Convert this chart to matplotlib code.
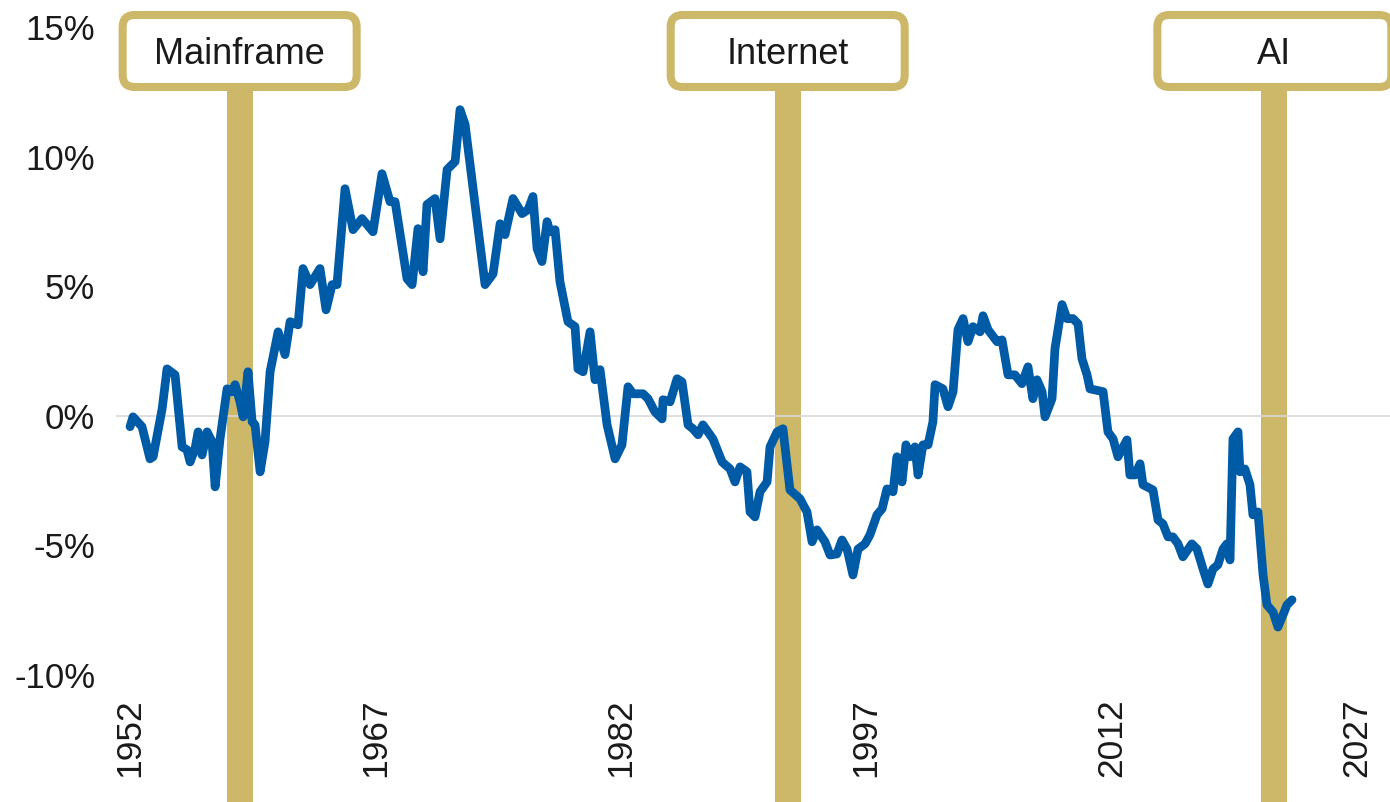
import matplotlib
matplotlib.use("Agg")
import matplotlib.pyplot as plt
from matplotlib.patches import FancyBboxPatch
from matplotlib.transforms import IdentityTransform

plt.rcParams['font.family'] = ['Liberation Sans', 'DejaVu Sans']

# series (year, percent)
years = [1952.00, 1952.18, 1952.73, 1953.22, 1953.41, 1953.96, 1954.26, 1954.75, 1955.18, 1955.48,
         1955.67, 1955.97, 1956.16, 1956.40, 1956.71, 1957.01, 1957.20, 1957.50, 1957.93, 1958.23,
         1958.42, 1958.72, 1958.91, 1959.21, 1959.46, 1959.64, 1959.95, 1960.25, 1960.56, 1961.05,
         1961.47, 1961.78, 1962.27, 1962.57, 1963.00, 1963.61, 1963.98, 1964.35, 1964.65, 1965.14,
         1965.63, 1966.18, 1966.85, 1967.40, 1967.89, 1968.20, 1968.93, 1969.24, 1969.60, 1969.91,
         1970.15, 1970.64, 1970.95, 1971.38, 1971.87, 1972.17, 1972.48, 1973.70, 1974.19, 1974.62,
         1974.92, 1975.41, 1975.96, 1976.33, 1976.63, 1976.88, 1977.18, 1977.49, 1977.67, 1977.98,
         1978.28, 1978.77, 1979.20, 1979.38, 1979.69, 1980.12, 1980.42, 1980.73, 1981.16, 1981.65,
         1982.07, 1982.44, 1982.75, 1983.36, 1983.66, 1984.09, 1984.52, 1984.58, 1985.01, 1985.44,
         1985.74, 1986.11, 1986.41, 1986.72, 1987.02, 1987.63, 1988.19, 1988.68, 1988.98, 1989.29,
         1989.71, 1989.90, 1990.20, 1990.51, 1990.94, 1991.12, 1991.55, 1991.91, 1992.34, 1992.95,
         1993.38, 1993.69, 1993.99, 1994.48, 1994.79, 1995.21, 1995.52, 1995.83, 1996.19, 1996.50,
         1996.93, 1997.23, 1997.66, 1997.97, 1998.27, 1998.64, 1998.88, 1999.19, 1999.43, 1999.68,
         1999.98, 2000.17, 2000.47, 2000.78, 2001.08, 2001.21, 2001.69, 2002.00, 2002.31, 2002.61,
         2002.92, 2003.22, 2003.53, 2003.96, 2004.14, 2004.45, 2005.00, 2005.30, 2005.67, 2006.09,
         2006.52, 2006.89, 2007.19, 2007.44, 2007.75, 2007.93, 2008.36, 2008.54, 2008.97, 2009.27,
         2009.64, 2009.95, 2010.19, 2010.50, 2010.68, 2011.48, 2011.78, 2012.09, 2012.39, 2012.94,
         2013.12, 2013.43, 2013.74, 2013.92, 2014.53, 2014.84, 2015.14, 2015.45, 2015.75, 2016.06,
         2016.36, 2016.91, 2017.22, 2017.59, 2017.89, 2018.20, 2018.50, 2018.81, 2019.05, 2019.24,
         2019.42, 2019.73, 2019.85, 2020.15, 2020.46, 2020.64, 2020.95, 2021.26, 2021.50, 2021.87,
         2022.17, 2022.48, 2022.72, 2023.03]
values = [-0.42, -0.04, -0.42, -1.66, -1.58, 0.27, 1.81, 1.58, -1.20, -1.31,
          -1.78, -1.27, -0.62, -1.51, -0.62, -1.00, -2.74, -0.89, 1.04, 0.93,
          1.20, 0.54, -0.04, 1.70, -0.23, -0.35, -2.16, -1.00, 1.70, 3.24,
          2.36, 3.63, 3.51, 5.68, 5.06, 5.68, 4.09, 5.06, 5.06, 8.76,
          7.18, 7.61, 7.10, 9.34, 8.26, 8.26, 5.29, 5.06, 7.22, 5.56,
          8.15, 8.38, 6.83, 9.50, 9.81, 11.81, 11.24, 5.06, 5.48, 7.41,
          6.99, 8.38, 7.80, 7.95, 8.46, 6.45, 5.95, 7.49, 7.10, 7.18,
          5.17, 3.63, 3.44, 1.81, 1.70, 3.24, 1.39, 1.78, -0.35, -1.66,
          -1.12, 1.12, 0.85, 0.85, 0.66, 0.15, -0.12, 0.62, 0.54, 1.43,
          1.31, -0.35, -0.50, -0.73, -0.35, -0.89, -1.78, -2.05, -2.55, -1.97,
          -2.16, -3.71, -3.90, -2.93, -2.55, -1.20, -0.62, -0.50, -2.86, -3.20,
          -3.71, -4.86, -4.40, -4.86, -5.37, -5.33, -4.79, -5.14, -6.14, -5.14,
          -4.94, -4.59, -3.82, -3.59, -2.82, -2.93, -1.58, -2.55, -1.12, -1.58,
          -1.20, -2.28, -1.12, -1.12, -0.23, 1.20, 1.04, 0.35, 0.93, 3.32,
          3.75, 2.86, 3.44, 3.24, 3.86, 3.32, 2.86, 2.93, 1.58, 1.58,
          1.24, 1.89, 0.66, 1.39, 0.93, -0.04, 0.66, 2.59, 4.29, 3.75,
          3.75, 3.55, 2.20, 1.58, 1.04, 0.93, -0.62, -0.89, -1.58, -0.93,
          -2.28, -2.28, -1.85, -2.66, -2.86, -4.02, -4.17, -4.67, -4.67, -4.94,
          -5.44, -4.94, -5.14, -5.91, -6.49, -5.91, -5.75, -5.14, -4.94, -5.56,
          -0.89, -0.62, -2.16, -2.05, -2.66, -3.82, -3.71, -6.14, -7.30, -7.57,
          -8.15, -7.68, -7.30, -7.10]

event_names = ["Mainframe", "Internet", "AI"]
event_years = [1958.7, 1992.2, 2021.95]

x_ticks = [1952, 1967, 1982, 1997, 2012, 2027]
y_ticks = [-10, -5, 0, 5, 10, 15]
y_tick_labels = ["-10%", "-5%", "0%", "5%", "10%", "15%"]

gold = "#CDB86A"
blue = "#005BA6"
txt = "#1a1a1a"

fig = plt.figure(figsize=(13.9, 8.02), dpi=100)
ax = fig.add_axes([116 / 1390, 127 / 802, 1274 / 1390, 648 / 802])
ax.set_xlim(1951.14, 2029.02)
ax.set_ylim(-10, 15)

# gold bars for each era
for yr in event_years:
    ax.axvspan(yr - 0.8, yr + 0.8, ymin=-0.2, ymax=0.902, color=gold, lw=0, clip_on=False, zorder=1)

ax.axhline(0, color="#d9d9d9", lw=1.2, zorder=2)
ax.plot(years, values, color=blue, lw=6.3, solid_joinstyle="round", solid_capstyle="round", zorder=3)

ax.set_xticks(x_ticks)
ax.set_xticklabels([str(t) for t in x_ticks], rotation=90)
ax.set_yticks(y_ticks)
ax.set_yticklabels(y_tick_labels)
ax.tick_params(axis="both", length=0, labelsize=25, colors=txt)
ax.tick_params(axis="x", pad=16.5, labelsize=25.5)
ax.tick_params(axis="y", pad=15)
for s in ax.spines.values():
    s.set_visible(False)

# label boxes on top of the bars (pixel sizes)
box_w, box_h = 234, 72
box_bottom = 715
for name, yr in zip(event_names, event_years):
    xc = ax.transData.transform((yr, 0))[0]
    box = FancyBboxPatch((xc - box_w / 2, box_bottom), box_w, box_h,
                         boxstyle="round,pad=0,rounding_size=12",
                         transform=IdentityTransform(), facecolor="white",
                         edgecolor=gold, linewidth=5.8, zorder=5)
    fig.add_artist(box)
    fig.text(xc / 1390, (box_bottom + box_h / 2) / 802, name, ha="center", va="center_baseline",
             fontsize=26, color=txt, zorder=6)

fig.savefig("out.png", dpi=100)
